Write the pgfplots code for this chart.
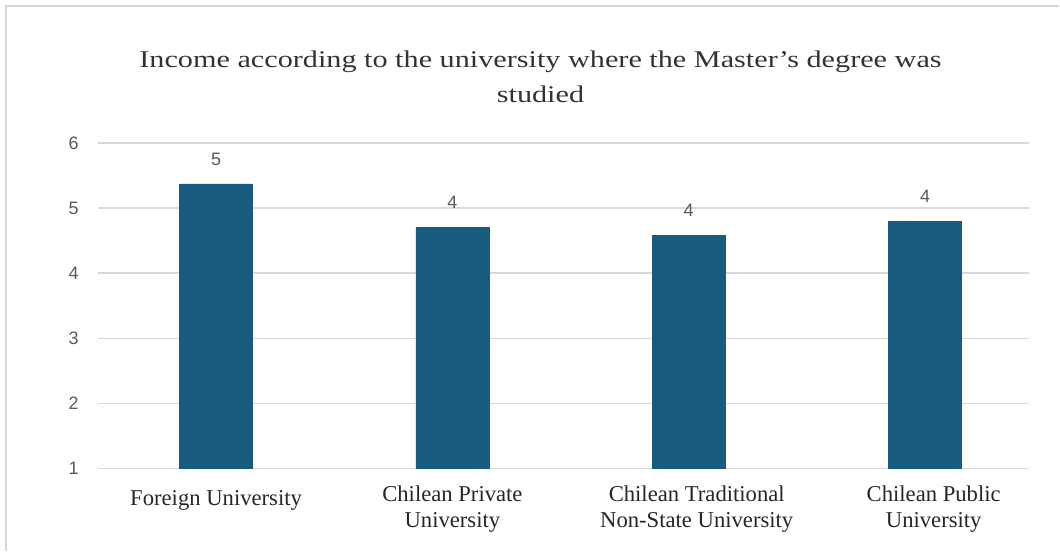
\documentclass[border=0pt]{standalone}
\usepackage{pgfplots}
\pgfplotsset{compat=1.18}
\usepackage{graphicx}
\usepackage{fontspec}
\setmainfont{Liberation Serif}
\newfontfamily\sansf{Liberation Sans}
\definecolor{barc}{HTML}{175C7E}
\definecolor{gridc}{HTML}{D9D9D9}
\definecolor{tickc}{HTML}{595959}
\definecolor{framec}{HTML}{D6D6D6}
\begin{document}
\begin{tikzpicture}[x=0.75pt,y=0.75pt]
\path (0,0) rectangle (1060,552);
\draw[framec, line width=1.5pt] (6.5,0) -- (6.5,545.5) -- (1060,545.5);
\node[align=center, font=\fontsize{18}{26}\selectfont, text=black!80] at (541,475) {\scalebox{1.26}[1]{Income according to the university where the Master's degree was}\\\scalebox{1.26}[1]{studied}};
\begin{axis}[
  at={(98*0.75pt,83*0.75pt)}, anchor=south west,
  scale only axis, width=699pt, height=244.5pt,
  ymin=1, ymax=6, ytick={1,2,3,4,5,6},
  xmin=-0.5, xmax=3.44,
  xtick=data,
  xticklabels={{\raisebox{-4pt}[\height]{Foreign University}},{Chilean Private\\University},{\hspace*{12pt}Chilean Traditional\\\hspace*{12pt}Non-State University},{\hspace*{13pt}Chilean Public\\\hspace*{13pt}University}},
  xticklabel style={align=center, font=\fontsize{17}{20}\selectfont, text=black!85, yshift=-5pt},
  /pgf/number format/assume math mode=true,
  yticklabel style={font=\sansf\fontsize{13.5}{15}\selectfont, text=tickc, xshift=-11pt},
  ymajorgrids, grid style={gridc, line width=1pt},
  axis line style={draw=none},
  major tick style={draw=none},
  ybar, bar width=54.75pt,
  nodes near coords,
  point meta=explicit symbolic,
  nodes near coords style={font=\sansf\fontsize{13.5}{15}\selectfont, text=tickc, anchor=south, yshift=10.5pt},
]
\addplot[fill=barc, draw=barc] coordinates {(0,5.37)[5] (1,4.70)[4] (2,4.58)[4] (3,4.79)[4]};
\end{axis}
\end{tikzpicture}
\end{document}
